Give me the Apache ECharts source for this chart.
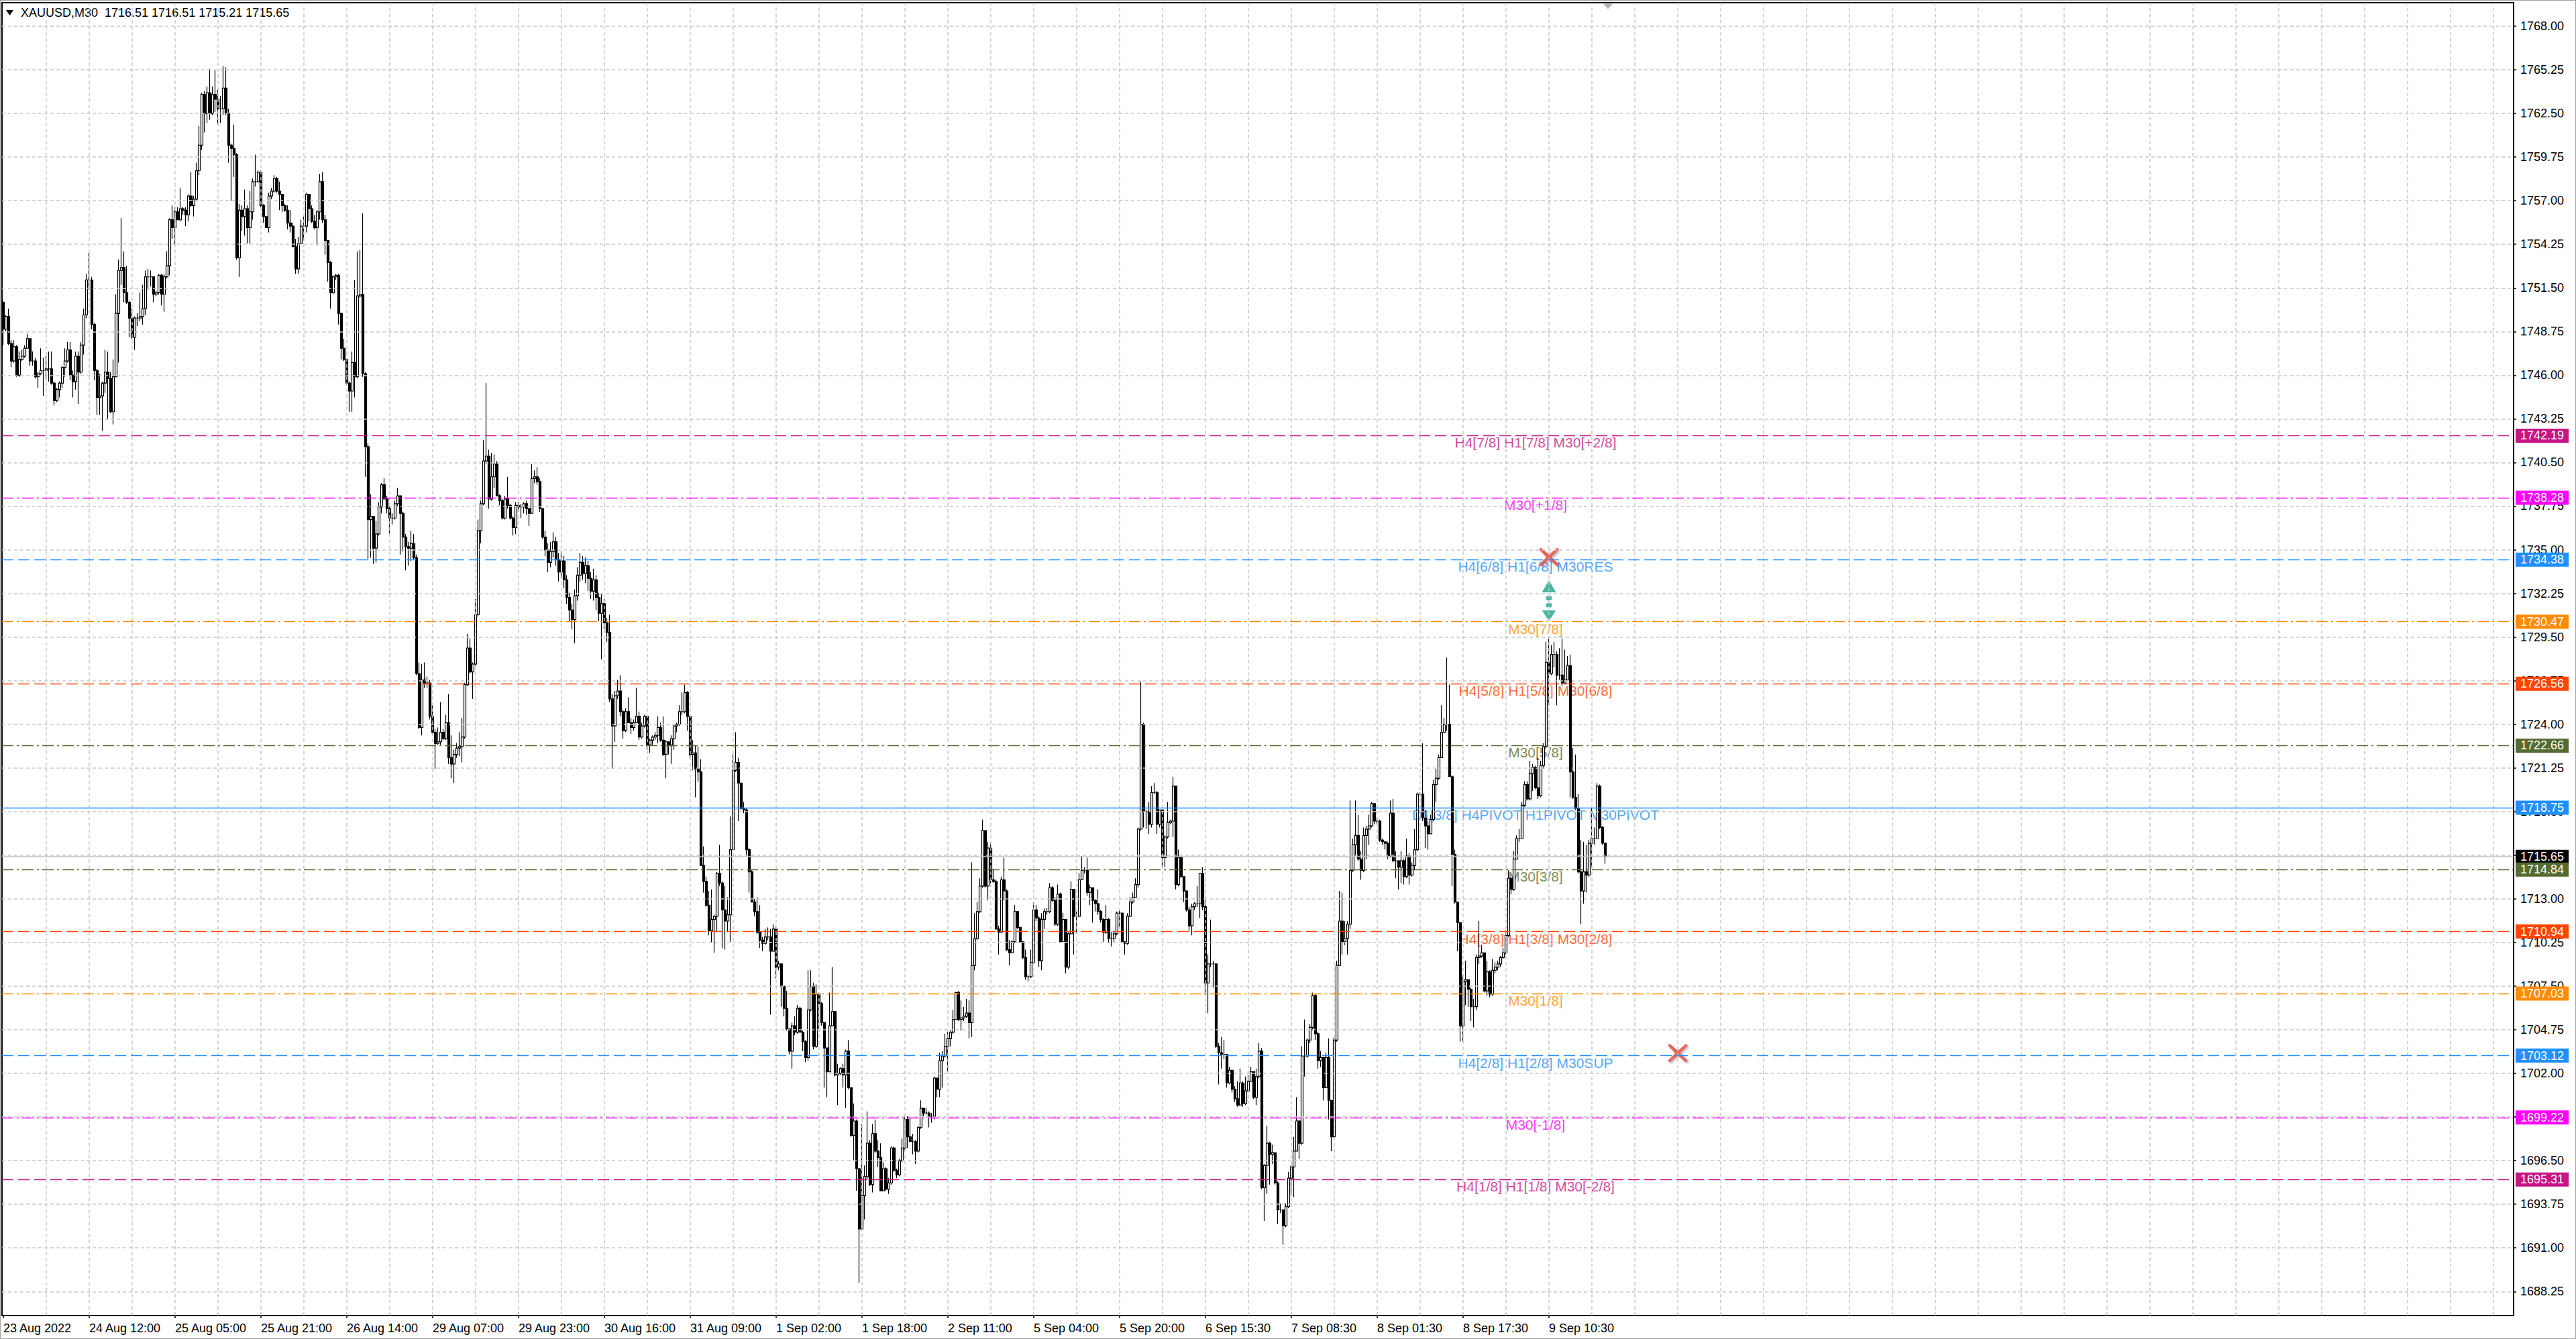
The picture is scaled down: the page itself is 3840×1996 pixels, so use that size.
<!DOCTYPE html>
<html>
<head>
<meta charset="utf-8">
<title>XAUUSD,M30</title>
<script src="https://cdn.jsdelivr.net/npm/echarts@6/dist/echarts.min.js"></script>
<style>
  html, body { margin: 0; padding: 0; background: #fff; }
  #chart { width: 3840px; height: 1996px; }
</style>
</head>
<body>
<div id="chart"></div>
<script>
var symbolName = "XAUUSD,M30";
// M30 bars; each bar opens at the previous close
var firstOpen = 1750.6;
var closes = [
  1748.9, 1749.7, 1748.0, 1746.9, 1747.8, 1746.0, 1747.0, 1747.2, 1747.7, 1748.3,
  1746.9, 1746.9, 1745.9, 1746.1, 1746.3, 1746.3, 1746.4, 1746.4, 1745.5, 1744.4,
  1745.1, 1745.5, 1746.5, 1746.9, 1747.6, 1746.0, 1745.6, 1747.2, 1746.2, 1747.9,
  1749.8, 1752.0, 1752.0, 1749.2, 1746.3, 1744.6, 1744.7, 1745.5, 1746.2, 1745.8,
  1743.7, 1745.9, 1749.9, 1752.6, 1752.8, 1751.2, 1750.6, 1749.6, 1748.4, 1749.6,
  1749.6, 1749.7, 1750.2, 1752.2, 1752.2, 1752.2, 1751.1, 1751.2, 1752.3, 1751.1,
  1752.2, 1752.9, 1755.8, 1755.3, 1756.3, 1755.8, 1756.5, 1756.4, 1756.1, 1757.3,
  1756.7, 1757.1, 1758.9, 1760.5, 1763.7, 1762.5, 1763.8, 1762.5, 1763.7, 1763.4,
  1762.8, 1762.8, 1764.1, 1762.5, 1760.5, 1760.3, 1759.9, 1753.4, 1756.4, 1756.0,
  1756.5, 1755.3, 1756.3, 1758.2, 1758.2, 1758.8, 1756.7, 1756.0, 1755.3, 1757.3,
  1757.6, 1758.4, 1757.6, 1757.4, 1756.7, 1756.4, 1755.6, 1755.4, 1754.1, 1752.7,
  1754.3, 1755.4, 1755.4, 1757.4, 1756.5, 1755.7, 1755.3, 1756.3, 1758.2, 1755.8,
  1754.5, 1753.1, 1751.2, 1752.2, 1752.3, 1749.9, 1747.7, 1747.0, 1745.5, 1745.0,
  1746.8, 1745.9, 1751.0, 1751.1, 1746.1, 1741.5, 1736.9, 1737.1, 1735.1, 1736.0,
  1737.7, 1739.1, 1738.2, 1737.6, 1737.0, 1737.0, 1737.9, 1738.4, 1737.3, 1735.8,
  1735.2, 1735.1, 1735.4, 1734.5, 1727.2, 1723.8, 1726.8, 1726.6, 1726.6, 1724.5,
  1723.5, 1722.8, 1722.9, 1723.5, 1723.1, 1724.1, 1721.9, 1721.5, 1722.1, 1722.5,
  1722.6, 1723.2, 1726.5, 1728.8, 1727.3, 1727.8, 1730.9, 1736.2, 1737.9, 1740.6,
  1740.9, 1738.2, 1739.6, 1740.4, 1738.4, 1738.1, 1737.0, 1738.2, 1737.8, 1737.0,
  1736.4, 1737.8, 1737.7, 1737.7, 1737.9, 1737.6, 1737.3, 1739.5, 1739.6, 1739.3,
  1737.6, 1735.8, 1735.0, 1734.2, 1734.9, 1735.5, 1734.4, 1733.6, 1734.3, 1733.1,
  1732.0, 1731.2, 1730.6, 1732.1, 1733.4, 1734.2, 1733.5, 1734.0, 1733.2, 1732.4,
  1733.1, 1732.0, 1731.0, 1731.6, 1730.4, 1729.8, 1725.6, 1723.9, 1725.8, 1726.1,
  1724.8, 1723.6, 1724.8, 1724.1, 1723.8, 1724.1, 1724.5, 1723.2, 1723.9, 1724.5,
  1722.7, 1723.0, 1723.2, 1723.3, 1723.8, 1723.0, 1722.1, 1722.9, 1722.7, 1723.1,
  1723.9, 1724.0, 1724.8, 1724.8, 1726.0, 1724.5, 1722.1, 1722.2, 1721.2, 1721.0,
  1715.1, 1714.1, 1712.6, 1711.0, 1711.7, 1711.9, 1714.6, 1714.0, 1712.3, 1711.6,
  1712.0, 1716.1, 1721.1, 1721.6, 1720.3, 1718.7, 1718.6, 1716.1, 1714.7, 1712.8,
  1712.2, 1710.9, 1710.4, 1710.2, 1710.6, 1710.6, 1709.7, 1711.1, 1708.7, 1708.9,
  1707.5, 1706.1, 1704.8, 1703.4, 1705.0, 1704.6, 1706.1, 1704.6, 1704.0, 1703.0,
  1706.0, 1707.5, 1703.7, 1707.0, 1706.4, 1705.2, 1703.6, 1702.1, 1705.0, 1705.9,
  1701.9, 1702.0, 1702.3, 1701.9, 1703.4, 1701.1, 1698.1, 1699.0, 1696.0, 1692.2,
  1694.3, 1695.5, 1697.6, 1695.0, 1698.2, 1697.1, 1696.7, 1694.6, 1696.0, 1694.7,
  1695.1, 1697.3, 1695.9, 1695.6, 1696.5, 1697.3, 1699.1, 1698.0, 1697.7, 1697.7,
  1697.1, 1698.6, 1699.8, 1699.5, 1699.5, 1699.3, 1699.3, 1701.7, 1701.0, 1702.8,
  1703.1, 1703.7, 1704.2, 1704.6, 1705.4, 1707.1, 1705.4, 1705.5, 1705.6, 1705.8,
  1705.2, 1708.8, 1710.5, 1712.2, 1713.8, 1717.3, 1713.8, 1716.2, 1714.2, 1714.1,
  1711.1, 1710.9, 1714.2, 1713.5, 1709.8, 1709.6, 1710.3, 1712.2, 1711.2, 1710.3,
  1709.3, 1708.1, 1708.1, 1709.0, 1712.3, 1711.8, 1709.1, 1711.7, 1712.2, 1712.2,
  1713.7, 1712.9, 1711.4, 1713.3, 1710.3, 1711.7, 1708.7, 1710.8, 1713.6, 1711.9,
  1711.9, 1714.2, 1714.8, 1714.8, 1713.4, 1713.7, 1712.9, 1712.7, 1712.2, 1711.7,
  1710.9, 1711.7, 1710.5, 1710.5, 1710.8, 1712.1, 1712.1, 1710.3, 1710.2, 1711.9,
  1712.8, 1713.1, 1713.9, 1717.4, 1724.0, 1718.5, 1718.5, 1717.7, 1719.7, 1719.7,
  1717.7, 1718.6, 1715.6, 1716.9, 1717.8, 1717.9, 1720.1, 1713.9, 1715.6, 1714.4,
  1713.5, 1712.3, 1711.3, 1712.5, 1712.7, 1712.7, 1714.6, 1712.5, 1707.7, 1708.9,
  1708.9, 1708.9, 1703.7, 1703.3, 1703.2, 1703.2, 1701.4, 1702.2, 1701.0, 1700.4,
  1700.0, 1701.4, 1700.1, 1700.9, 1701.5, 1702.1, 1700.5, 1701.8, 1703.4, 1694.8,
  1696.2, 1697.6, 1696.9, 1697.0, 1695.1, 1693.4, 1693.4, 1692.4, 1693.6, 1695.4,
  1696.1, 1697.1, 1699.0, 1697.6, 1703.1, 1703.1, 1704.1, 1704.9, 1706.9, 1704.5,
  1702.8, 1703.0, 1701.1, 1703.0, 1700.3, 1698.0, 1704.1, 1708.8, 1711.6, 1710.3,
  1710.5, 1711.4, 1714.8, 1716.4, 1717.0, 1715.5, 1714.8, 1717.0, 1717.4, 1717.6,
  1719.0, 1717.9, 1717.9, 1716.7, 1716.6, 1716.5, 1715.7, 1718.4, 1715.4, 1715.4,
  1715.0, 1715.4, 1714.4, 1715.7, 1714.5, 1715.1, 1716.1, 1719.6, 1719.6, 1718.1,
  1717.6, 1717.1, 1718.0, 1720.2, 1720.6, 1721.9, 1723.5, 1724.0, 1724.0, 1720.7,
  1715.8, 1712.8, 1711.5, 1705.0, 1707.8, 1707.9, 1707.3, 1706.2, 1706.2, 1709.3,
  1709.4, 1709.6, 1707.2, 1708.4, 1707.0, 1708.5, 1708.7, 1708.9, 1709.3, 1709.6,
  1710.7, 1714.3, 1713.6, 1715.5, 1716.8, 1716.8, 1718.9, 1720.2, 1719.3, 1720.9,
  1721.3, 1720.0, 1719.5, 1721.4, 1722.6, 1727.9, 1727.2, 1728.4, 1728.4, 1727.1,
  1727.1, 1726.6, 1726.8, 1727.7, 1721.0, 1719.4, 1718.7, 1714.7, 1713.5, 1714.7,
  1714.5, 1716.5, 1716.8, 1716.8, 1720.1, 1717.5, 1716.51, 1715.65
];
var highs = [
  1750.7, 1749.8, 1750.2, 1748.2, 1748.2, 1747.9, 1747.5, 1747.6, 1747.9, 1748.6,
  1747.9, 1747.5, 1747.1, 1746.2, 1747.7, 1747.1, 1747.2, 1747.5, 1747.5, 1745.6,
  1745.2, 1745.6, 1746.6, 1747.7, 1748.1, 1748.1, 1746.3, 1747.5, 1747.5, 1748.1,
  1750.2, 1752.4, 1753.7, 1752.2, 1749.3, 1746.4, 1746.1, 1745.6, 1747.6, 1747.5,
  1746.2, 1747.0, 1751.1, 1753.3, 1755.9, 1753.8, 1752.9, 1750.7, 1750.2, 1749.7,
  1749.9, 1751.2, 1751.7, 1752.6, 1752.7, 1752.6, 1751.4, 1751.3, 1752.4, 1752.4,
  1752.4, 1753.8, 1755.9, 1756.7, 1756.6, 1756.6, 1757.8, 1756.6, 1756.6, 1757.4,
  1758.8, 1757.3, 1759.4, 1761.7, 1763.8, 1763.9, 1764.2, 1765.3, 1764.2, 1765.2,
  1764.0, 1763.6, 1765.5, 1765.4, 1762.8, 1760.6, 1761.8, 1760.0, 1756.8, 1756.7,
  1757.7, 1756.7, 1757.6, 1758.4, 1759.9, 1758.9, 1758.9, 1756.8, 1756.0, 1757.5,
  1757.8, 1758.6, 1758.5, 1758.2, 1757.4, 1756.8, 1756.7, 1756.4, 1755.6, 1754.6,
  1754.7, 1755.8, 1756.0, 1757.5, 1757.4, 1756.7, 1756.1, 1756.4, 1758.7, 1758.8,
  1756.1, 1754.5, 1753.2, 1752.3, 1752.4, 1752.4, 1749.9, 1748.3, 1747.0, 1745.6,
  1747.5, 1752.0, 1753.8, 1753.9, 1756.2, 1746.2, 1741.7, 1738.5, 1737.1, 1736.8,
  1738.0, 1739.2, 1739.5, 1738.4, 1737.7, 1737.3, 1738.1, 1738.9, 1738.4, 1737.4,
  1736.0, 1735.5, 1736.2, 1736.0, 1734.7, 1727.9, 1727.8, 1727.9, 1727.0, 1726.8,
  1725.2, 1723.7, 1723.8, 1725.4, 1723.7, 1724.6, 1725.9, 1723.3, 1722.4, 1722.8,
  1723.5, 1724.4, 1726.6, 1729.7, 1729.4, 1727.9, 1731.9, 1736.9, 1738.1, 1741.9,
  1745.5, 1741.3, 1741.1, 1741.0, 1740.6, 1738.5, 1738.2, 1738.4, 1739.6, 1737.9,
  1737.1, 1738.0, 1738.0, 1737.9, 1738.0, 1738.1, 1737.6, 1740.4, 1740.0, 1740.2,
  1739.5, 1737.6, 1736.2, 1735.4, 1735.5, 1736.1, 1735.8, 1734.8, 1734.9, 1734.6,
  1733.4, 1732.3, 1731.6, 1732.5, 1733.9, 1734.8, 1734.6, 1734.5, 1734.3, 1733.6,
  1733.8, 1733.4, 1732.3, 1732.2, 1731.9, 1730.7, 1730.9, 1725.9, 1726.1, 1726.8,
  1727.1, 1724.9, 1725.0, 1725.7, 1724.4, 1724.3, 1726.3, 1724.8, 1724.1, 1724.6,
  1723.3, 1723.1, 1723.3, 1723.5, 1724.5, 1724.1, 1724.5, 1723.0, 1722.9, 1723.3,
  1723.9, 1724.1, 1725.2, 1726.0, 1726.5, 1726.1, 1724.5, 1723.0, 1722.7, 1722.6,
  1721.8, 1716.3, 1714.4, 1713.5, 1713.6, 1712.0, 1714.7, 1716.4, 1714.1, 1713.8,
  1713.1, 1718.2, 1722.1, 1723.5, 1721.9, 1720.3, 1719.1, 1718.7, 1716.2, 1714.8,
  1713.0, 1713.1, 1712.6, 1710.6, 1711.1, 1711.2, 1711.1, 1711.4, 1711.3, 1709.1,
  1708.9, 1707.5, 1707.2, 1704.8, 1705.2, 1705.6, 1706.3, 1706.2, 1704.7, 1704.1,
  1708.5, 1708.5, 1707.7, 1707.6, 1707.1, 1706.5, 1705.1, 1703.6, 1707.1, 1708.7,
  1705.9, 1702.6, 1702.4, 1702.6, 1703.5, 1704.1, 1701.1, 1700.1, 1699.1, 1696.0,
  1698.8, 1696.2, 1699.6, 1697.8, 1698.8, 1699.1, 1697.8, 1697.6, 1696.4, 1696.1,
  1695.4, 1697.4, 1697.4, 1696.0, 1696.6, 1697.9, 1699.3, 1699.3, 1699.2, 1698.2,
  1697.8, 1698.7, 1700.3, 1699.8, 1699.8, 1699.6, 1699.5, 1701.8, 1701.7, 1703.3,
  1703.4, 1704.5, 1704.6, 1704.7, 1706.0, 1707.1, 1707.2, 1706.6, 1706.2, 1706.7,
  1706.6, 1715.3, 1712.1, 1712.8, 1714.3, 1718.0, 1716.7, 1716.6, 1716.5, 1714.9,
  1714.2, 1711.3, 1714.4, 1715.6, 1713.6, 1710.4, 1710.4, 1712.6, 1711.7, 1711.2,
  1710.3, 1709.8, 1708.2, 1709.8, 1712.8, 1712.6, 1711.9, 1712.1, 1712.4, 1712.4,
  1714.0, 1713.8, 1713.1, 1713.9, 1713.4, 1712.1, 1711.7, 1710.9, 1714.1, 1713.4,
  1712.2, 1714.6, 1715.7, 1715.0, 1715.6, 1713.9, 1713.7, 1713.0, 1713.6, 1712.3,
  1711.8, 1712.6, 1711.8, 1710.9, 1711.0, 1712.2, 1712.3, 1712.0, 1710.3, 1712.1,
  1713.1, 1713.4, 1714.3, 1717.5, 1726.7, 1724.1, 1718.6, 1719.1, 1720.1, 1720.3,
  1719.8, 1718.6, 1718.6, 1717.0, 1719.1, 1718.0, 1720.7, 1720.1, 1716.1, 1715.7,
  1714.4, 1713.4, 1712.5, 1712.7, 1712.8, 1713.8, 1714.6, 1715.0, 1712.9, 1709.5,
  1711.7, 1709.1, 1708.9, 1703.9, 1704.3, 1704.1, 1703.2, 1702.4, 1702.2, 1701.2,
  1701.5, 1702.3, 1701.5, 1701.8, 1701.9, 1702.4, 1701.9, 1702.3, 1703.9, 1703.6,
  1696.3, 1698.7, 1697.7, 1697.5, 1697.0, 1695.2, 1693.8, 1693.4, 1693.8, 1695.8,
  1696.2, 1698.0, 1700.5, 1699.1, 1703.7, 1705.4, 1704.2, 1705.1, 1707.1, 1707.0,
  1704.6, 1703.4, 1703.0, 1703.3, 1704.2, 1700.3, 1704.3, 1709.1, 1713.5, 1713.4,
  1711.6, 1711.6, 1719.2, 1716.8, 1719.2, 1718.3, 1716.0, 1717.5, 1717.6, 1718.3,
  1719.1, 1718.6, 1718.1, 1718.0, 1716.8, 1716.6, 1716.6, 1719.2, 1719.3, 1716.0,
  1715.4, 1716.0, 1715.5, 1716.8, 1715.9, 1715.3, 1717.4, 1719.7, 1719.7, 1722.8,
  1718.6, 1717.9, 1718.3, 1720.5, 1721.2, 1722.1, 1725.2, 1724.4, 1728.2, 1726.5,
  1720.8, 1716.1, 1712.8, 1711.5, 1708.2, 1709.1, 1707.7, 1707.4, 1706.7, 1709.5,
  1711.6, 1710.1, 1709.6, 1709.1, 1708.5, 1709.2, 1709.0, 1709.1, 1709.4, 1709.9,
  1711.0, 1714.8, 1713.9, 1716.0, 1717.0, 1717.4, 1719.1, 1720.4, 1720.4, 1721.7,
  1721.5, 1721.4, 1721.9, 1721.7, 1722.8, 1729.2, 1729.4, 1729.0, 1729.2, 1728.6,
  1728.8, 1729.4, 1728.7, 1728.3, 1728.4, 1722.5, 1722.1, 1719.6, 1716.7, 1716.6,
  1716.4, 1716.7, 1718.7, 1717.5, 1720.3, 1720.2, 1717.6, 1716.51
];
var lows = [
  1747.9, 1748.8, 1747.9, 1746.5, 1746.8, 1745.9, 1745.9, 1746.9, 1747.1, 1747.7,
  1746.6, 1746.6, 1745.8, 1745.2, 1746.0, 1744.7, 1745.7, 1745.6, 1745.4, 1744.1,
  1744.3, 1744.6, 1745.2, 1745.9, 1746.8, 1745.7, 1744.6, 1745.1, 1744.2, 1746.1,
  1747.3, 1749.6, 1751.4, 1748.9, 1745.7, 1743.5, 1743.5, 1742.5, 1744.9, 1743.2,
  1743.6, 1742.9, 1745.9, 1746.8, 1751.7, 1750.6, 1750.5, 1748.4, 1748.3, 1747.6,
  1749.1, 1749.4, 1749.2, 1749.8, 1751.4, 1751.6, 1750.6, 1751.0, 1751.1, 1750.4,
  1750.0, 1752.1, 1752.3, 1754.6, 1754.2, 1755.8, 1755.7, 1756.1, 1755.4, 1755.7,
  1756.6, 1756.0, 1757.0, 1758.6, 1760.2, 1761.3, 1761.9, 1762.1, 1762.4, 1762.6,
  1761.8, 1761.9, 1762.4, 1762.4, 1759.4, 1757.0, 1758.5, 1753.3, 1752.2, 1755.1,
  1754.8, 1754.3, 1754.3, 1755.8, 1757.9, 1758.4, 1756.6, 1755.6, 1755.3, 1755.0,
  1757.1, 1757.5, 1757.5, 1756.4, 1756.3, 1756.3, 1755.2, 1755.0, 1754.1, 1752.4,
  1752.4, 1754.3, 1754.5, 1755.0, 1755.7, 1755.6, 1755.2, 1754.2, 1755.8, 1755.6,
  1753.6, 1751.9, 1750.2, 1751.1, 1752.0, 1749.2, 1747.0, 1746.9, 1745.4, 1743.7,
  1743.7, 1744.6, 1745.8, 1750.9, 1745.9, 1739.6, 1734.4, 1734.5, 1734.1, 1734.2,
  1735.9, 1737.3, 1738.2, 1737.3, 1736.0, 1736.6, 1736.9, 1737.7, 1734.7, 1734.9,
  1733.7, 1734.0, 1734.3, 1734.4, 1727.1, 1723.7, 1723.3, 1726.3, 1726.3, 1724.3,
  1723.4, 1721.2, 1722.7, 1722.7, 1723.0, 1723.0, 1721.5, 1720.6, 1720.3, 1721.9,
  1722.0, 1721.6, 1723.1, 1726.4, 1727.2, 1725.6, 1727.7, 1730.8, 1735.4, 1737.8,
  1740.4, 1737.6, 1738.1, 1738.9, 1738.4, 1737.8, 1736.9, 1736.9, 1737.6, 1736.9,
  1735.9, 1736.0, 1737.4, 1737.0, 1737.3, 1737.2, 1736.5, 1737.3, 1739.2, 1739.1,
  1737.4, 1735.7, 1734.6, 1733.6, 1733.9, 1734.5, 1734.0, 1733.0, 1733.2, 1732.6,
  1731.6, 1730.5, 1730.0, 1729.1, 1731.8, 1733.0, 1733.1, 1732.9, 1732.4, 1731.9,
  1731.8, 1731.2, 1730.5, 1728.1, 1730.0, 1729.2, 1725.4, 1721.2, 1722.9, 1725.6,
  1724.5, 1723.1, 1723.5, 1724.1, 1723.4, 1723.6, 1724.1, 1723.0, 1723.1, 1723.8,
  1722.4, 1722.2, 1722.7, 1723.0, 1722.8, 1722.9, 1722.0, 1720.6, 1722.1, 1721.5,
  1722.4, 1723.5, 1723.9, 1724.6, 1724.7, 1723.6, 1721.9, 1721.1, 1719.4, 1720.4,
  1715.1, 1713.4, 1712.5, 1710.7, 1710.2, 1709.6, 1710.9, 1713.8, 1709.9, 1709.8,
  1710.9, 1710.3, 1716.1, 1721.0, 1717.9, 1718.6, 1718.4, 1715.7, 1713.4, 1712.8,
  1711.9, 1710.8, 1709.9, 1709.7, 1710.1, 1710.4, 1705.7, 1709.7, 1708.0, 1708.5,
  1706.2, 1705.6, 1704.7, 1703.2, 1702.3, 1704.4, 1704.5, 1704.6, 1703.4, 1702.7,
  1702.8, 1705.9, 1703.5, 1703.6, 1704.7, 1705.0, 1701.1, 1700.5, 1702.1, 1705.3,
  1701.8, 1700.0, 1701.9, 1701.1, 1699.8, 1701.0, 1698.0, 1696.5, 1694.6, 1688.8,
  1692.1, 1692.8, 1695.3, 1694.9, 1694.5, 1697.0, 1696.1, 1694.6, 1694.6, 1694.6,
  1694.4, 1695.0, 1695.8, 1695.4, 1695.5, 1696.4, 1697.1, 1697.3, 1697.7, 1696.9,
  1696.3, 1697.0, 1698.5, 1699.3, 1699.4, 1698.6, 1698.9, 1699.1, 1700.5, 1700.5,
  1701.1, 1703.0, 1702.1, 1703.7, 1704.5, 1705.4, 1705.3, 1704.7, 1705.3, 1705.5,
  1704.2, 1704.3, 1708.5, 1710.4, 1712.1, 1713.7, 1713.7, 1712.9, 1714.0, 1714.0,
  1711.1, 1709.5, 1711.0, 1712.9, 1709.7, 1708.8, 1709.6, 1710.2, 1711.1, 1710.2,
  1709.2, 1707.9, 1707.8, 1708.0, 1708.9, 1711.6, 1708.7, 1708.5, 1711.1, 1712.0,
  1712.1, 1712.8, 1711.3, 1711.3, 1710.2, 1710.5, 1708.3, 1708.6, 1710.8, 1709.5,
  1710.8, 1712.7, 1714.2, 1714.6, 1713.2, 1712.6, 1711.5, 1712.2, 1712.0, 1711.5,
  1710.3, 1710.8, 1710.2, 1710.0, 1710.3, 1710.7, 1711.2, 1710.2, 1709.5, 1710.1,
  1711.9, 1712.7, 1713.1, 1713.7, 1717.3, 1717.5, 1717.4, 1717.1, 1717.5, 1719.6,
  1717.1, 1717.5, 1715.0, 1715.0, 1716.8, 1717.7, 1716.9, 1713.6, 1713.8, 1714.3,
  1712.8, 1712.2, 1711.0, 1710.7, 1712.3, 1712.5, 1711.8, 1712.3, 1706.9, 1705.8,
  1708.7, 1707.4, 1703.6, 1701.3, 1702.3, 1702.9, 1701.1, 1701.3, 1700.8, 1700.2,
  1699.9, 1700.0, 1699.9, 1700.0, 1700.8, 1701.5, 1700.4, 1700.0, 1701.7, 1694.7,
  1692.7, 1694.4, 1695.0, 1696.3, 1695.0, 1692.5, 1693.2, 1691.2, 1692.3, 1693.5,
  1694.3, 1694.2, 1697.1, 1696.6, 1697.5, 1701.8, 1703.0, 1703.9, 1704.7, 1704.1,
  1702.3, 1702.4, 1700.3, 1701.1, 1699.1, 1697.1, 1697.9, 1704.0, 1708.8, 1709.5,
  1710.1, 1709.5, 1711.1, 1714.7, 1715.7, 1715.4, 1714.2, 1714.7, 1715.5, 1716.4,
  1717.5, 1717.7, 1717.7, 1716.6, 1716.4, 1716.1, 1715.5, 1715.6, 1715.3, 1714.3,
  1713.6, 1714.0, 1713.9, 1714.3, 1713.9, 1714.4, 1714.8, 1716.0, 1719.5, 1717.9,
  1716.2, 1716.1, 1717.1, 1717.9, 1719.1, 1720.5, 1721.9, 1723.5, 1723.6, 1720.7,
  1713.8, 1712.7, 1709.7, 1704.0, 1704.0, 1706.3, 1706.2, 1705.3, 1704.9, 1706.0,
  1708.9, 1709.3, 1707.1, 1706.9, 1706.8, 1706.9, 1708.3, 1708.5, 1708.7, 1709.2,
  1709.5, 1710.6, 1713.3, 1713.5, 1715.5, 1716.6, 1716.8, 1718.8, 1719.2, 1719.2,
  1719.8, 1719.9, 1719.3, 1719.4, 1721.2, 1722.5, 1725.2, 1727.1, 1727.6, 1725.2,
  1726.8, 1726.4, 1726.7, 1726.8, 1719.4, 1719.3, 1718.6, 1714.6, 1711.4, 1712.7,
  1713.4, 1714.4, 1715.0, 1716.4, 1716.8, 1717.4, 1716.4, 1715.21
];

// time axis labels, one every 32 bars
var timeLabels = [
  "23 Aug 2022", "24 Aug 12:00", "25 Aug 05:00", "25 Aug 21:00", "26 Aug 14:00",
  "29 Aug 07:00", "29 Aug 23:00", "30 Aug 16:00", "31 Aug 09:00", "1 Sep 02:00",
  "1 Sep 18:00", "2 Sep 11:00", "5 Sep 04:00", "5 Sep 20:00", "6 Sep 15:30",
  "7 Sep 08:30", "8 Sep 01:30", "8 Sep 17:30", "9 Sep 10:30"
];

// Murrey math levels drawn on the chart
var levelPrices = [1742.19, 1738.28, 1734.38, 1730.47, 1726.56, 1722.66, 1718.75,
  1714.84, 1710.94, 1707.03, 1703.12, 1699.22, 1695.31];
var levelNames = [
  "H4[7/8] H1[7/8] M30[+2/8]", "M30[+1/8]", "H4[6/8] H1[6/8] M30RES", "M30[7/8]",
  "H4[5/8] H1[5/8] M30[6/8]", "M30[5/8]", "D1[3/8] H4PIVOT H1PIVOT M30PIVOT", "M30[3/8]",
  "H4[3/8] H1[3/8] M30[2/8]", "M30[1/8]", "H4[2/8] H1[2/8] M30SUP", "M30[-1/8]",
  "H4[1/8] H1[1/8] M30[-2/8]"
];
var levelColors = ["#c71585", "#ff00ff", "#1e90ff", "#ff8c00", "#ff4500", "#556b2f", "#1e90ff",
  "#556b2f", "#ff4500", "#ff8c00", "#1e90ff", "#ff00ff", "#c71585"];
var levelKinds = ["dash", "dashdot", "dash", "dashdot", "dash", "dashdot", "solid",
  "dashdot", "dash", "dashdot", "dash", "dashdot", "dash"];

var bidPrice = 1715.65;
var crossMarks = [[576, 1734.55], [624, 1703.28]];
var arrowMarks = [[576, 1732.7, "up"], [576, 1731.95, "stem"], [576, 1731.5, "stem"], [576, 1730.85, "down"]];
var shiftMark = [598, 1769.25];

(function () {
  var FONT = '"Liberation Sans", Arial, sans-serif';
  var priceMin = 1686.74, priceMax = 1769.48;
  var firstTick = 1688.25, tickStep = 2.75, tickCount = 30;
  var slotCount = 936, timeEvery = 32, gridEvery = 16;
  var labelBar = 571;

  var priceTicks = [];
  for (var k = 0; k < tickCount; k++) priceTicks.push(Math.round((firstTick + k * tickStep) * 100) / 100);

  var slots = [];
  for (var s = 0; s < slotCount; s++) slots.push(String(s));

  var candles = closes.map(function (c, i) {
    var o = i === 0 ? firstOpen : closes[i - 1];
    return [o, c, Math.min(lows[i], o, c), Math.max(highs[i], o, c)];
  });

  var last = closes.length - 1;
  var title = symbolName + "\u00a0 " + [closes[last - 1], highs[last], lows[last], closes[last]]
    .map(function (v) { return v.toFixed(2); }).join(" ");

  var dashes = { dash: [17, 7], dashdot: [17, 5, 3, 5], solid: "solid" };
  var gridStyle = { color: "#c8c8c8", type: [5, 4], width: 1.5 };

  function boxLabel(text, bg) {
    return {
      show: true, position: "end", distance: 3, formatter: text,
      color: "#fff", backgroundColor: bg, fontSize: 18, fontFamily: FONT,
      lineHeight: 18, padding: [2, 7, 1, 7]
    };
  }

  // chart grid first, then the bid line and the levels on top of it
  var lines = [];
  priceTicks.forEach(function (p) {
    lines.push({ yAxis: p, lineStyle: gridStyle, label: { show: false } });
  });
  for (var g = gridEvery; g < slotCount; g += gridEvery) {
    lines.push({ xAxis: g, lineStyle: gridStyle, label: { show: false } });
  }
  lines.push({
    yAxis: bidPrice,
    lineStyle: { color: "#c0c0c0", type: "solid", width: 1.5 },
    label: boxLabel(bidPrice.toFixed(2), "#000")
  });
  levelPrices.forEach(function (p, i) {
    lines.push({
      yAxis: p,
      lineStyle: { color: levelColors[i], type: dashes[levelKinds[i]], width: 1.4 },
      label: boxLabel(p.toFixed(2), levelColors[i])
    });
  });

  var tags = levelPrices.map(function (p, i) {
    return { name: levelNames[i], value: [labelBar, p], label: { color: levelColors[i] } };
  });

  var crossPath = "path://M2,0 L10,7.5 L18,0 L20,2 L12.5,10 L20,18 L18,20 L10,12.5 L2,20 L0,18 L7.5,10 L0,2 Z";
  var marks = crossMarks.map(function (m) {
    return {
      value: [m[0], m[1]], symbol: crossPath, symbolSize: [30, 28],
      itemStyle: { color: "#e8473b", shadowBlur: 3, shadowColor: "rgba(0,0,0,0.35)", shadowOffsetX: 2, shadowOffsetY: 2 }
    };
  });
  arrowMarks.forEach(function (m) {
    var item = { value: [m[0], m[1]], itemStyle: { color: "#1fa38a" } };
    if (m[2] === "up") { item.symbol = "triangle"; item.symbolSize = [21, 18]; }
    else if (m[2] === "down") { item.symbol = "triangle"; item.symbolSize = [21, 16]; item.symbolRotate = 180; }
    else { item.symbol = "rect"; item.symbolSize = [8, 6]; }
    marks.push(item);
  });
  marks.push({
    value: [shiftMark[0], shiftMark[1]], symbol: "triangle", symbolSize: [14, 8], symbolRotate: 180,
    itemStyle: { color: "#a0a0a0" }
  });

  var showTime = function (index) { return index % timeEvery === 0 && index / timeEvery < timeLabels.length; };

  var option = {
    animation: false,
    backgroundColor: "#ffffff",
    grid: {
      left: 3, right: 93, top: 4, bottom: 35,
      show: true, borderColor: "#000", borderWidth: 2, backgroundColor: "#fff",
      containLabel: false, outerBoundsMode: "none"
    },
    xAxis: {
      type: "category", data: slots, boundaryGap: true, position: "bottom",
      axisLine: { show: true, lineStyle: { color: "#000", width: 2 } },
      axisTick: { show: true, alignWithLabel: true, interval: showTime, length: 4, lineStyle: { color: "#000", width: 1.5 } },
      axisLabel: {
        show: true, interval: showTime, align: "left", margin: 10,
        color: "#000", fontSize: 18, fontFamily: FONT,
        formatter: function (value, index) { return timeLabels[index / timeEvery] || ""; }
      },
      splitLine: { show: false }
    },
    yAxis: {
      type: "value", position: "right", scale: true,
      min: priceMin, max: priceMax,
      axisLine: { show: true, lineStyle: { color: "#000", width: 2 } },
      axisTick: { show: true, length: 4, customValues: priceTicks, lineStyle: { color: "#000", width: 1.5 } },
      axisLabel: {
        show: true, margin: 10, color: "#000", fontSize: 18, fontFamily: FONT,
        customValues: priceTicks,
        formatter: function (v) { return v.toFixed(2); }
      },
      splitLine: { show: false }
    },
    series: [
      {
        name: "levels", type: "scatter", z: 2,
        symbolSize: 0, silent: true, data: tags,
        label: {
          show: true, position: "bottom", distance: 0, formatter: "{b}",
          fontSize: 21, lineHeight: 21, fontFamily: FONT
        },
        markLine: { silent: true, symbol: ["none", "none"], animation: false, data: lines }
      },
      {
        name: symbolName, type: "candlestick", z: 3,
        data: candles, barWidth: 3, large: false, silent: true,
        itemStyle: {
          color: "#ffffff", color0: "#000000",
          borderColor: "#000000", borderColor0: "#000000", borderWidth: 1.2
        }
      },
      {
        name: "objects", type: "scatter", z: 4,
        silent: true, clip: false, data: marks
      }
    ],
    graphic: [
      { type: "rect", silent: true, shape: { x: 0, y: 0, width: 3840, height: 1996 },
        style: { fill: "none", stroke: "#a0a0a0", lineWidth: 2 } },
      { type: "polygon", silent: true, shape: { points: [[9, 15], [20, 15], [14.5, 23]] }, style: { fill: "#000" } },
      { type: "text", silent: true, left: 31, top: 10,
        style: { text: title, fill: "#000", font: "18px " + FONT } }
    ]
  };

  var myChart = echarts.init(document.getElementById("chart"), null, { renderer: "svg", width: 3840, height: 1996 });
  myChart.setOption(option);
})();
</script>
</body>
</html>
